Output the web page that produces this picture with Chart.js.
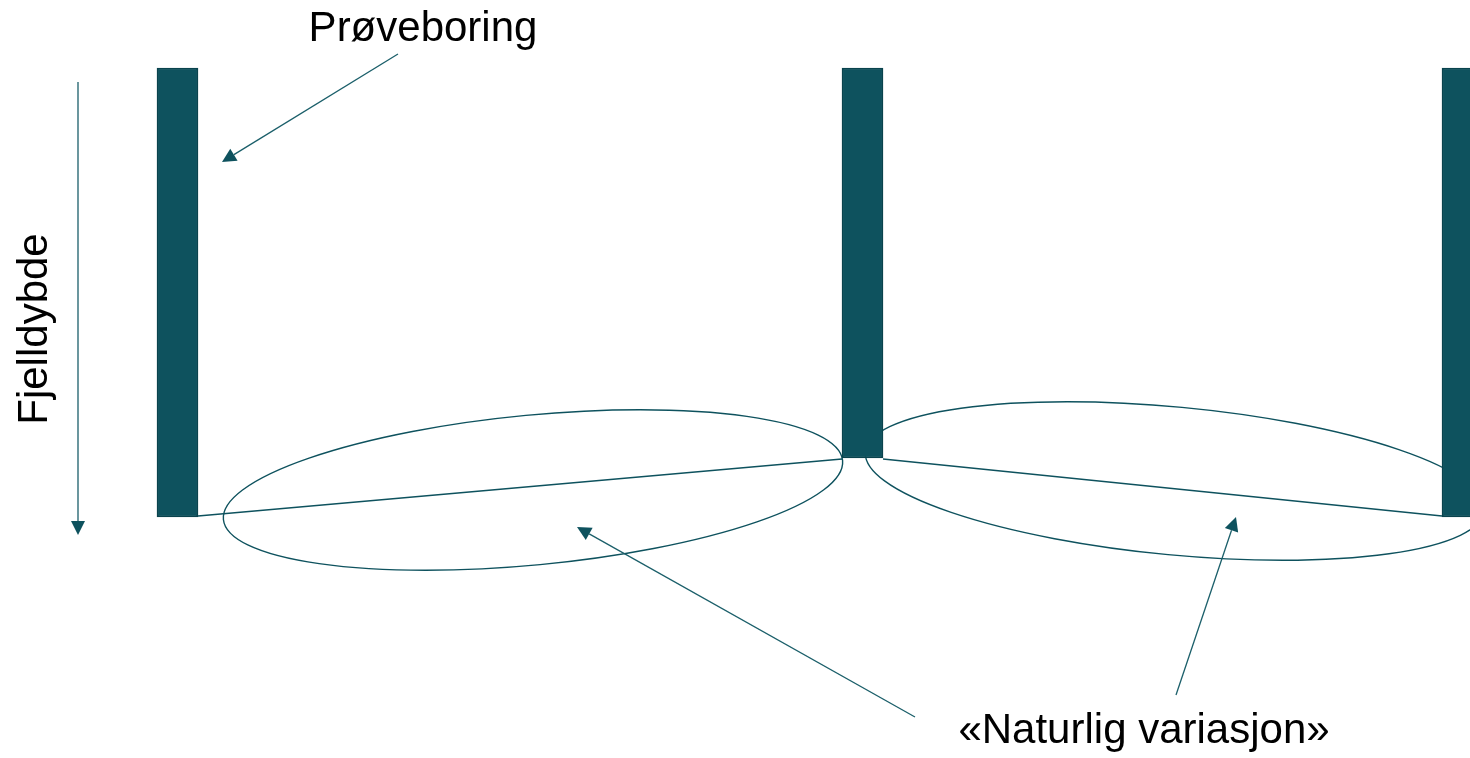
<!DOCTYPE html>
<html>
<head>
<meta charset="utf-8">
<script src="https://cdn.jsdelivr.net/npm/chart.js@4/dist/chart.umd.min.js"></script>
<style>
html,body{margin:0;padding:0;background:#fff;}
#wrap{width:1470px;height:758px;}
</style>
</head>
<body>
<div id="wrap"><canvas id="c" width="1470" height="758"></canvas></div>
<script>
// ---- data (horizontal position, depth; depth grows downward) ----
const boreholeX = [177.5, 862.5, 1462.5];
const boreholeTop = [68, 68, 68];
const rockDepth = [517, 458, 517];
const boreholeHalfWidth = 20.5;

// "natural variation" zones between borings: centre x, centre depth, half-length, half-width, tilt (deg)
const zoneCx = [533, 1175];
const zoneCy = [490, 481];
const zoneA = [311, 311];
const zoneB = [75, 74];
const zoneTilt = [-5.45, 5.4];

// labels
const labelText = ['Prøveboring', '«Naturlig variasjon»', 'Fjelldybde'];
const labelX = [423, 1144, 35];
const labelY = [29, 731, 329];
const labelRot = [0, 0, -90];

// annotation arrows: from -> to (arrowhead at "to")
const arrowFromX = [398, 915, 1176, 78];
const arrowFromY = [54, 717, 695, 82];
const arrowToX = [222, 577, 1236, 78];
const arrowToY = [162, 527, 517, 535];

const teal = '#0e525e';
const tealDark = '#0a434d';

const barData = boreholeX.map((x, i) => ({x: x, y: [boreholeTop[i], rockDepth[i]]}));
const seg1 = [
  {x: boreholeX[0] + boreholeHalfWidth, y: rockDepth[0] - 1},
  {x: boreholeX[1] - boreholeHalfWidth, y: rockDepth[1] + 1}
];
const seg2 = [
  {x: boreholeX[1] + boreholeHalfWidth, y: rockDepth[1] + 1},
  {x: boreholeX[2] - boreholeHalfWidth, y: rockDepth[2] - 1}
];

const zonesPlugin = {
  id: 'zones',
  beforeDatasetsDraw(chart) {
    const {ctx, scales: {x, y}} = chart;
    ctx.save();
    ctx.strokeStyle = teal;
    ctx.lineWidth = 1.4;
    for (let i = 0; i < zoneCx.length; i++) {
      const px = x.getPixelForValue(zoneCx[i]);
      const py = y.getPixelForValue(zoneCy[i]);
      const rx = Math.abs(x.getPixelForValue(zoneCx[i] + zoneA[i]) - px);
      const ry = Math.abs(y.getPixelForValue(zoneCy[i] + zoneB[i]) - py);
      ctx.beginPath();
      ctx.ellipse(px, py, rx, ry, zoneTilt[i] * Math.PI / 180, 0, Math.PI * 2);
      ctx.stroke();
    }
    ctx.restore();
  }
};

const annotPlugin = {
  id: 'annot',
  afterDatasetsDraw(chart) {
    const {ctx, scales: {x, y}} = chart;
    ctx.save();
    // arrows
    for (let i = 0; i < arrowFromX.length; i++) {
      const x1 = x.getPixelForValue(arrowFromX[i]);
      const y1 = y.getPixelForValue(arrowFromY[i]);
      const x2 = x.getPixelForValue(arrowToX[i]);
      const y2 = y.getPixelForValue(arrowToY[i]);
      const ang = Math.atan2(y2 - y1, x2 - x1);
      const L = 14, W = 7;
      const bx = x2 - L * Math.cos(ang), by = y2 - L * Math.sin(ang);
      ctx.strokeStyle = '#1b5f6a';
      ctx.lineWidth = 1.3;
      ctx.beginPath();
      ctx.moveTo(x1, y1);
      ctx.lineTo(bx, by);
      ctx.stroke();
      ctx.fillStyle = teal;
      ctx.beginPath();
      ctx.moveTo(x2, y2);
      ctx.lineTo(bx + W * Math.sin(ang), by - W * Math.cos(ang));
      ctx.lineTo(bx - W * Math.sin(ang), by + W * Math.cos(ang));
      ctx.closePath();
      ctx.fill();
    }
    // labels
    ctx.fillStyle = '#000';
    ctx.font = '42px "Liberation Sans", Arial, sans-serif';
    ctx.textAlign = 'center';
    ctx.textBaseline = 'middle';
    for (let i = 0; i < labelText.length; i++) {
      ctx.save();
      ctx.translate(x.getPixelForValue(labelX[i]), y.getPixelForValue(labelY[i]));
      ctx.rotate(labelRot[i] * Math.PI / 180);
      ctx.fillText(labelText[i], 0, 0);
      ctx.restore();
    }
    ctx.restore();
  }
};

new Chart(document.getElementById('c'), {
  type: 'bar',
  data: {
    datasets: [
      {
        type: 'line', data: seg1, borderColor: teal, borderWidth: 1.4,
        pointRadius: 0, fill: false, tension: 0, order: 2
      },
      {
        type: 'line', data: seg2, borderColor: teal, borderWidth: 1.4,
        pointRadius: 0, fill: false, tension: 0, order: 2
      },
      {
        type: 'bar', data: barData, backgroundColor: teal, borderColor: tealDark,
        borderWidth: 1.5, borderSkipped: false, barThickness: 41, order: 1
      }
    ]
  },
  options: {
    responsive: false,
    animation: false,
    events: [],
    layout: {padding: 0},
    plugins: {legend: {display: false}, tooltip: {enabled: false}},
    scales: {
      x: {type: 'linear', min: 0, max: 1470, offset: false, display: false},
      y: {type: 'linear', min: 0, max: 758, reverse: true, display: false, beginAtZero: false}
    }
  },
  plugins: [zonesPlugin, annotPlugin]
});
</script>
</body>
</html>
